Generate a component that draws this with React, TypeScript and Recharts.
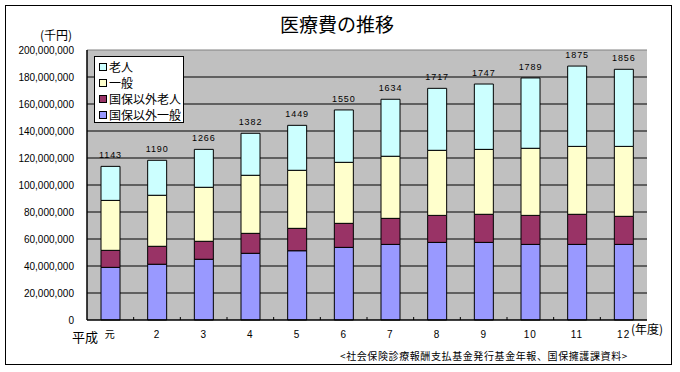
import React from 'react';
import { BarChart, Bar, XAxis, YAxis, CartesianGrid, LabelList, ReferenceLine } from 'recharts';

// 単位: 千円
const categories = ['元', '2', '3', '4', '5', '6', '7', '8', '9', '10', '11', '12'];
const kokuhoIgaiIppan = [39000000, 41300000, 45000000, 49400000, 51300000, 53800000, 56000000, 57500000, 57500000, 56000000, 56000000, 56000000];
const kokuhoIgaiRojin = [12600000, 13300000, 13300000, 14800000, 16600000, 17800000, 19300000, 20000000, 20800000, 21500000, 22300000, 20800000];
const ippan = [37000000, 37800000, 40000000, 43000000, 43000000, 45200000, 46000000, 48200000, 48100000, 49700000, 50300000, 51800000];
const rojin = [25200000, 25900000, 28100000, 31100000, 33300000, 38800000, 42200000, 45900000, 48400000, 52100000, 59500000, 57100000];
const counts = [1143, 1190, 1266, 1382, 1449, 1550, 1634, 1717, 1747, 1789, 1875, 1856];
const yTicks = [0, 20000000, 40000000, 60000000, 80000000, 100000000, 120000000, 140000000, 160000000, 180000000, 200000000];
const gridValues = [20000000, 40000000, 60000000, 80000000, 100000000, 120000000, 140000000, 160000000, 180000000];

const series = [
  { key: 'kokuhoIgaiIppan', name: '国保以外一般', color: '#9999FF' },
  { key: 'kokuhoIgaiRojin', name: '国保以外老人', color: '#993366' },
  { key: 'ippan', name: '一般', color: '#FFFFCC' },
  { key: 'rojin', name: '老人', color: '#CCFFFF' },
];

const data = categories.map((c, i) => ({
  cat: c,
  kokuhoIgaiIppan: kokuhoIgaiIppan[i],
  kokuhoIgaiRojin: kokuhoIgaiRojin[i],
  ippan: ippan[i],
  rojin: rojin[i],
  count: counts[i],
}));

const numFont = '"Liberation Sans", "Noto Sans CJK JP", sans-serif';
const jpFont = '"Noto Sans CJK JP", sans-serif';

const fmt = (v: number) => v.toLocaleString('en-US');

const CountLabel = (p: any) => {
  const x = Number(p.x) + Number(p.width) / 2;
  const y = Number(p.y) - 8;
  return (
    <text x={x} y={y} textAnchor="middle" fontSize={9} fontFamily={numFont} fill="#000" letterSpacing={0.9}>
      {p.value}
    </text>
  );
};

const TICK_GAP = 11;

const CatTick = (p: any) => {
  const { x, y, payload, index } = p;
  const half = payload && typeof payload.offset === 'number' && payload.offset > 0 ? payload.offset : 560 / 24;
  const axisY = Number(y) - TICK_GAP;
  return (
    <g>
      {index > 0 ? <line x1={x - half} x2={x - half} y1={axisY} y2={axisY - 3} stroke="#000" strokeWidth={1} /> : null}
      <text
        x={x}
        y={y}
        dy="0.71em"
        textAnchor="middle"
        fontSize={10}
        fontFamily={numFont}
        fill="#000"
        letterSpacing={1}
      >
        {payload.value}
      </text>
    </g>
  );
};

export default function App() {
  const legendItems = [...series].reverse();
  return (
    <div style={{ position: 'absolute', left: 0, top: 0, width: 680, height: 372, background: '#fff', fontFamily: jpFont }}>
      <div style={{ position: 'absolute', left: 5, top: 5, width: 667, height: 360, border: '1px solid #000', boxSizing: 'border-box' }} />
      <div style={{ position: 'absolute', left: 0, top: 0 }}>
        <BarChart width={680} height={372} data={data} margin={{ top: 50, right: 33, left: 7, bottom: 22 }} barSize={19}>
          <CartesianGrid
            horizontal
            vertical={false}
            stroke="#000"
            strokeWidth={1}
            fill="#C0C0C0"
            fillOpacity={1}
            horizontalValues={gridValues}
          />
          <XAxis
            dataKey="cat"
            height={30}
            tickLine={false}
            tickSize={0}
            tickMargin={TICK_GAP}
            axisLine={{ stroke: '#000', strokeWidth: 1.5 }}
            tick={<CatTick />}
            interval={0}
          />
          <YAxis
            width={80}
            domain={[0, 200000000]}
            ticks={yTicks}
            tickFormatter={fmt}
            tickLine={false}
            tickSize={0}
            tickMargin={13}
            axisLine={{ stroke: '#000', strokeWidth: 1.5 }}
            tick={{ fontSize: 10, fontFamily: numFont, fill: '#000' }}
            interval={0}
          />
          <YAxis
            yAxisId="r"
            orientation="right"
            width={0}
            domain={[0, 1]}
            tick={false}
            tickLine={false}
            axisLine={{ stroke: '#808080' }}
          />
          <ReferenceLine y={200000000} stroke="#808080" />
          {series.map((s, idx) => (
            <Bar
              key={s.key}
              dataKey={s.key}
              name={s.name}
              stackId="a"
              fill={s.color}
              stroke="#000"
              strokeWidth={1}
              isAnimationActive={false}
            >
              {idx === series.length - 1 ? <LabelList dataKey="count" content={CountLabel} /> : null}
            </Bar>
          ))}
        </BarChart>
      </div>

      <div style={{ position: 'absolute', left: 280, top: 14, fontSize: 19, lineHeight: 1, whiteSpace: 'nowrap', color: '#000' }}>
        医療費の推移
      </div>
      <div style={{ position: 'absolute', left: 40, top: 29, fontSize: 12, lineHeight: 1, whiteSpace: 'nowrap' }}>
        (千円)
      </div>

      <div
        style={{
          position: 'absolute',
          left: 94,
          top: 56,
          width: 90,
          height: 67,
          border: '1px solid #000',
          boxSizing: 'border-box',
          background: '#fff',
          padding: '2px 0 0 4px',
        }}
      >
        {legendItems.map((s) => (
          <div key={s.key} style={{ display: 'flex', alignItems: 'center', height: 16, fontSize: 12, lineHeight: 1, whiteSpace: 'nowrap' }}>
            <span style={{ display: 'inline-block', width: 8, height: 8, background: s.color, border: '1px solid #000', boxSizing: 'border-box', marginRight: 2 }} />
            <span>{s.name}</span>
          </div>
        ))}
      </div>

      <div style={{ position: 'absolute', left: 72, top: 330, fontSize: 13, lineHeight: 1, whiteSpace: 'nowrap' }}>平成</div>
      <div style={{ position: 'absolute', left: 631, top: 323, fontSize: 12, lineHeight: 1, whiteSpace: 'nowrap' }}>(年度)</div>
      <div style={{ position: 'absolute', left: 340, top: 351, fontSize: 10, lineHeight: 1, whiteSpace: 'nowrap', letterSpacing: 0.6 }}>
        &lt;社会保険診療報酬支払基金発行基金年報、国保擁護課資料&gt;
      </div>
    </div>
  );
}
